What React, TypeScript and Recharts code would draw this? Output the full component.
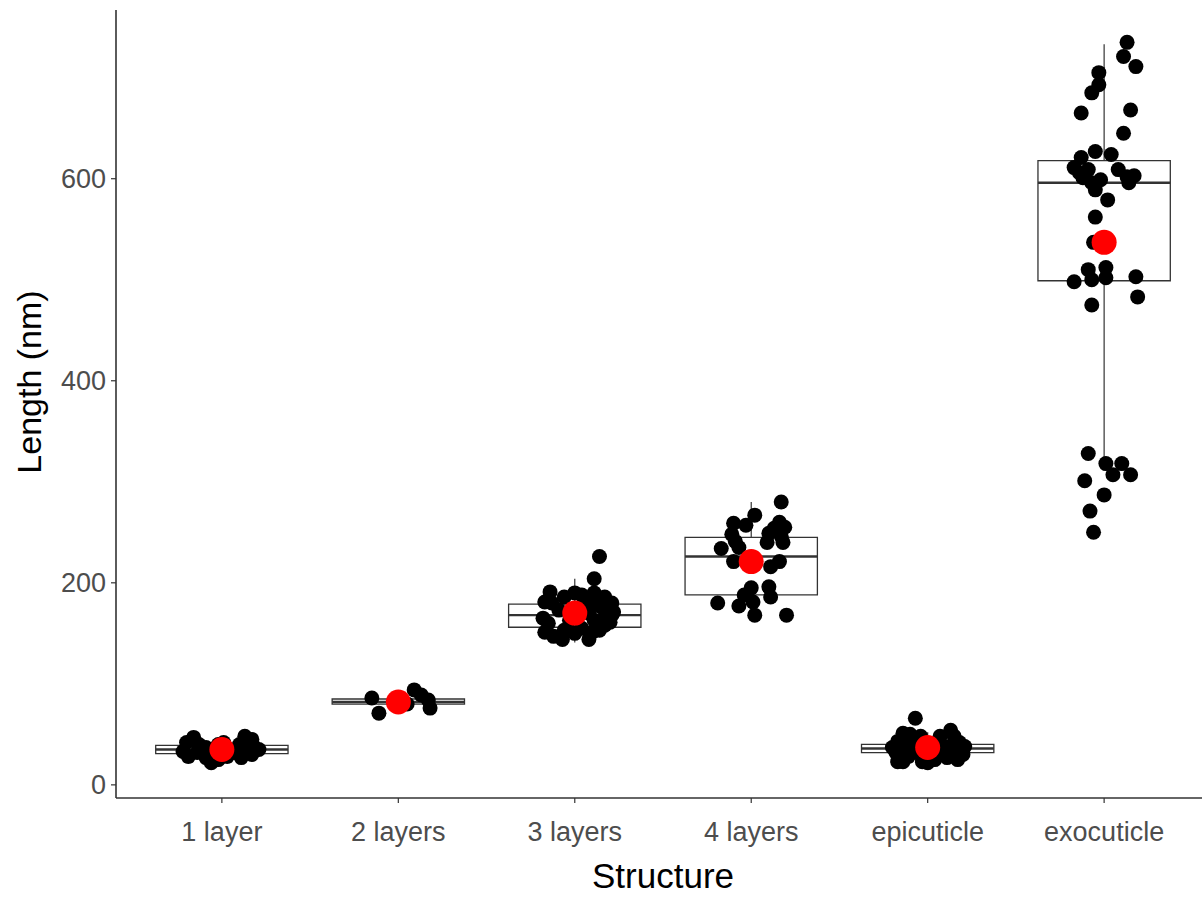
import React from "react";
import {
  ComposedChart,
  Scatter,
  XAxis,
  YAxis,
  ReferenceArea,
  ReferenceLine,
  Label,
} from "recharts";

// Structures along the x axis
const categories = ["1 layer", "2 layers", "3 layers", "4 layers", "epicuticle", "exocuticle"];

// Box-plot summaries (nm)
const boxQ1 = [31, 80, 156, 188, 32, 499];
const boxMedian = [35, 82, 168, 226, 36, 596];
const boxQ3 = [39, 85, 179, 245, 40, 618];
const whiskerLow = [22, 76, 141, 168, 22, 322];
const whiskerHigh = [47, 90, 204, 280, 52, 733];

// Group means (nm)
const groupMeans = [35, 82, 170, 221, 37, 537];

// Y axis ticks
const yTicks = [0, 200, 400, 600];

// Individual measurements per structure: [horizontal jitter, length in nm]
const oneLayer: [number, number][] = [
  [-0.16, 47], [-0.2, 42], [-0.22, 33], [-0.19, 28], [-0.13, 40], [-0.14, 32],
  [-0.09, 27], [-0.06, 22], [-0.09, 37], [-0.02, 25], [0.03, 28], [0.07, 32],
  [0.1, 40], [0.13, 48], [0.17, 45], [0.18, 38], [0.21, 35], [0.17, 30],
  [0.11, 27], [-0.02, 40], [0.01, 42], [-0.05, 33], [0.04, 35], [-0.16, 45],
  [0.15, 35],
];
const twoLayers: [number, number][] = [
  [-0.15, 86], [-0.11, 71], [0.09, 94], [0.13, 89], [0.17, 84], [0.18, 76],
  [0.0, 83], [0.05, 80],
];
const threeLayers: [number, number][] = [
  [0.14, 226], [0.11, 204], [-0.14, 191], [-0.17, 181], [0.0, 190], [0.04, 188],
  [0.11, 190], [0.17, 186], [0.21, 180], [0.22, 171], [0.15, 176], [0.1, 180],
  [0.08, 170], [0.11, 163], [0.17, 165], [0.2, 161], [-0.13, 180], [-0.09, 173],
  [-0.18, 165], [-0.15, 160], [-0.17, 151], [-0.12, 147], [-0.06, 153], [0.0, 150],
  [0.04, 155], [0.1, 151], [0.14, 153], [-0.07, 144], [0.08, 144], [0.17, 158],
  [-0.03, 163], [0.04, 176], [-0.06, 186], [0.21, 168],
];
const fourLayers: [number, number][] = [
  [0.17, 280], [0.02, 267], [-0.1, 259], [-0.03, 257], [0.16, 260], [0.13, 254],
  [0.19, 255], [-0.11, 248], [0.1, 249], [0.17, 246], [-0.09, 241], [0.09, 240],
  [0.18, 240], [-0.17, 234], [-0.07, 235], [-0.1, 221], [0.11, 216], [0.16, 221],
  [0.0, 195], [0.1, 196], [-0.04, 188], [0.11, 186], [-0.19, 180], [-0.07, 177],
  [0.01, 181], [0.02, 168], [0.2, 168],
];
const epicuticle: [number, number][] = [
  [-0.07, 66], [-0.14, 51], [-0.17, 43], [-0.18, 32], [-0.17, 23], [-0.11, 28],
  [-0.09, 42], [-0.04, 48], [-0.03, 23], [0.04, 25], [0.07, 48], [0.13, 54],
  [0.15, 48], [0.18, 42], [0.21, 38], [0.2, 30], [0.17, 25], [0.11, 27],
  [0.1, 38], [-0.2, 37], [-0.13, 37], [-0.06, 32], [0.09, 35], [-0.1, 50],
  [0.15, 35], [0.0, 22], [-0.14, 23],
];
const exocuticle: [number, number][] = [
  [0.13, 735], [0.11, 721], [0.18, 711], [-0.03, 705], [-0.03, 693], [-0.07, 685],
  [-0.13, 665], [0.15, 668], [0.11, 645], [-0.05, 627], [0.04, 624], [-0.13, 621],
  [-0.17, 611], [-0.09, 609], [-0.12, 601], [-0.07, 596], [-0.02, 599], [-0.05, 589],
  [-0.14, 606], [0.08, 609], [0.13, 602], [0.17, 603], [0.14, 596], [0.02, 579],
  [-0.05, 562], [-0.06, 537], [-0.09, 510], [0.01, 512], [-0.17, 498], [-0.07, 500],
  [0.01, 502], [0.18, 503], [0.19, 483], [-0.07, 475], [-0.09, 328], [0.01, 318],
  [0.1, 318], [0.05, 307], [-0.11, 301], [0.15, 307], [0.0, 287], [-0.08, 271],
  [-0.06, 250],
];

const groups = [oneLayer, twoLayers, threeLayers, fourLayers, epicuticle, exocuticle];

const pointData = groups.flatMap((pts, i) =>
  pts.map(([dx, v]) => ({ x: i + 1 + dx, y: v }))
);
const meanData = groupMeans.map((m, i) => ({ x: i + 1, y: m }));

const BOX_HALF = 0.375;
const FONT = "'Liberation Sans', Arial, Helvetica, sans-serif";
const LINE = "#333333";

const BlackDot = (p: any) => <circle cx={p.cx} cy={p.cy} r={7.5} fill="#000000" />;
const RedDot = (p: any) => <circle cx={p.cx} cy={p.cy} r={12.5} fill="#FF0000" />;

const XTitle = (props: any) => {
  const vb = props.viewBox || {};
  return (
    <text
      x={vb.x + vb.width / 2}
      y={880}
      textAnchor="middle"
      fontSize={35}
      fontFamily={FONT}
      fill="#000"
    >
      Structure
    </text>
  );
};

const YTitle = () => (
  <text
    x={33}
    y={374}
    transform="rotate(-90, 33, 374)"
    textAnchor="middle"
    fontSize={34}
    fontFamily={FONT}
    fill="#000"
  >
    Length (nm)
  </text>
);

const boxes = categories.flatMap((_, i) => {
  const c = i + 1;
  return [
    <ReferenceLine
      key={`wl-${i}`}
      segment={[{ x: c, y: whiskerLow[i] }, { x: c, y: boxQ1[i] }]}
      stroke={LINE}
      strokeWidth={1.2}
    />,
    <ReferenceLine
      key={`wh-${i}`}
      segment={[{ x: c, y: boxQ3[i] }, { x: c, y: whiskerHigh[i] }]}
      stroke={LINE}
      strokeWidth={1.2}
    />,
    <ReferenceArea
      key={`box-${i}`}
      x1={c - BOX_HALF}
      x2={c + BOX_HALF}
      y1={boxQ1[i]}
      y2={boxQ3[i]}
      fill="none"
      fillOpacity={0}
      stroke={LINE}
      strokeWidth={1.3}
    />,
    <ReferenceLine
      key={`med-${i}`}
      segment={[{ x: c - BOX_HALF, y: boxMedian[i] }, { x: c + BOX_HALF, y: boxMedian[i] }]}
      stroke={LINE}
      strokeWidth={2.4}
    />,
  ];
});

export default function App() {
  return (
    <div
      style={{
        position: "fixed",
        left: 0,
        top: 0,
        width: 1202,
        height: 902,
        overflow: "hidden",
        background: "#fff",
      }}
    >
      <div style={{ position: "absolute", left: 8, top: 8 }}>
        <ComposedChart
          width={1204}
          height={886}
          margin={{ top: 2, right: 2, bottom: 0, left: 0 }}
        >
          <XAxis
            type="number"
            dataKey="x"
            domain={[0.4, 6.6]}
            ticks={[1, 2, 3, 4, 5, 6]}
            tickFormatter={(v: number) => categories[v - 1] ?? ""}
            allowDataOverflow
            height={96}
            tickSize={5}
            tickMargin={19}
            axisLine={{ stroke: LINE, strokeWidth: 1.6 }}
            tickLine={{ stroke: LINE, strokeWidth: 1.2 }}
            tick={{ fontSize: 27, fill: "#4D4D4D", fontFamily: FONT }}
          >
            <Label content={XTitle} />
          </XAxis>
          <YAxis
            type="number"
            dataKey="y"
            domain={[-13, 767]}
            ticks={yTicks}
            allowDataOverflow
            width={108}
            tickSize={5}
            tickMargin={5}
            axisLine={{ stroke: LINE, strokeWidth: 1.6 }}
            tickLine={{ stroke: LINE, strokeWidth: 1.2 }}
            tick={{ fontSize: 27, fill: "#4D4D4D", fontFamily: FONT }}
          >
            <Label content={YTitle} />
          </YAxis>
          {boxes}
          <Scatter data={pointData} shape={BlackDot} isAnimationActive={false} />
          <Scatter data={meanData} shape={RedDot} isAnimationActive={false} />
        </ComposedChart>
      </div>
    </div>
  );
}
